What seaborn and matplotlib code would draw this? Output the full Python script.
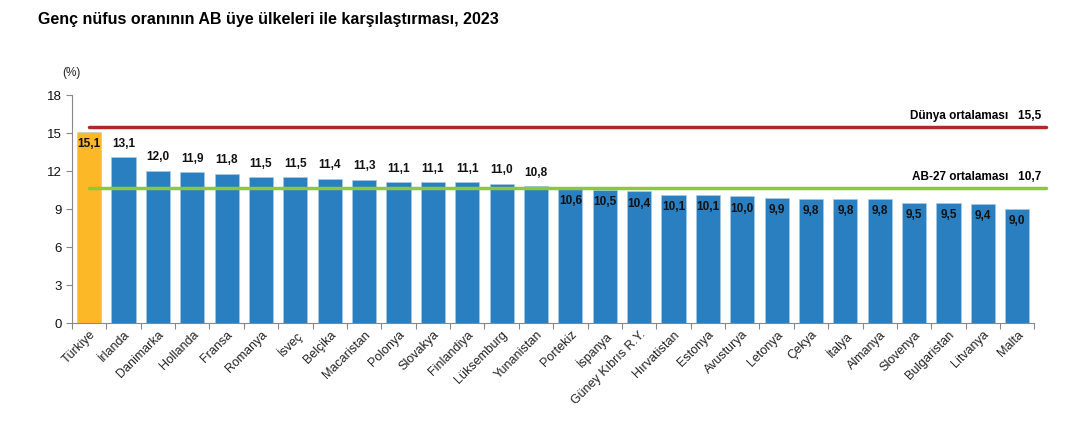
import numpy as np
import matplotlib.pyplot as plt
import seaborn as sns
import pandas as pd

# data
countries = ["Türkiye", "İrlanda", "Danimarka", "Hollanda", "Fransa", "Romanya", "İsveç",
             "Belçika", "Macaristan", "Polonya", "Slovakya", "Finlandiya", "Lüksemburg",
             "Yunanistan", "Portekiz", "İspanya", "Güney Kıbrıs R.Y.", "Hırvatistan",
             "Estonya", "Avusturya", "Letonya", "Çekya", "İtalya", "Almanya", "Slovenya",
             "Bulgaristan", "Litvanya", "Malta"]
values = [15.1, 13.1, 12.0, 11.9, 11.8, 11.5, 11.5, 11.4, 11.3, 11.1, 11.1, 11.1, 11.0,
          10.8, 10.6, 10.5, 10.4, 10.1, 10.1, 10.0, 9.9, 9.8, 9.8, 9.8, 9.5, 9.5, 9.4, 9.0]
world_avg = 15.5
eu_avg = 10.7

df = pd.DataFrame({"country": countries, "value": values})
df["group"] = np.where(df["country"] == "Türkiye", "tr", "eu")

sns.set_style("white")
plt.rcParams['font.family'] = ['Liberation Sans', 'DejaVu Sans']
plt.rcParams['text.color'] = 'black'

fig = plt.figure(figsize=(10.79, 4.36), dpi=100)
ax = fig.add_axes([0.0667, 0.259, 0.892, 0.523])

sns.barplot(data=df, x="country", y="value", hue="group",
            palette={"tr": "#FDB827", "eu": "#2A7FC1"}, width=0.7, saturation=1,
            dodge=False, legend=False, ax=ax, edgecolor="#a8cbe6", linewidth=0.4)

ax.set_xlim(-0.5, len(countries) - 0.5)
ax.set_ylim(0, 18)
ax.set_yticks([0, 3, 6, 9, 12, 15, 18])
ax.set_xlabel("")
ax.set_ylabel("")

# average lines, running a bit past the right edge of the axes
ax.plot([0, 27.85], [world_avg, world_avg], color="#B0282A", lw=2.5, clip_on=False)
ax.plot([0, 27.85], [eu_avg, eu_avg], color="#8DC63F", lw=2.5, clip_on=False)
ax.text(27.7, world_avg + 0.35, "Dünya ortalaması   15,5", ha="right", va="bottom",
        fontsize=8.5, fontweight="bold")
ax.text(27.7, eu_avg + 0.35, "AB-27 ortalaması   10,7", ha="right", va="bottom",
        fontsize=8.5, fontweight="bold")

# value labels: above the bar if over EU line, inside otherwise (Türkiye inside)
for i, v in enumerate(values):
    txt = f"{v:.1f}".replace(".", ",")
    if i == 0 or v <= eu_avg:
        ax.text(i, v - 0.5, txt, ha="center", va="top", fontsize=8.5, fontweight="bold",
                color="#111111")
    else:
        ax.text(i, v + 0.6, txt, ha="center", va="bottom", fontsize=8.5, fontweight="bold",
                color="#111111")

# x ticks between bars, labels rotated
ax.set_xticks(np.arange(-0.5, len(countries) + 0.5, 1), minor=False)
ax.set_xticklabels([])
ax.set_xticks(np.arange(len(countries)), minor=True)
ax.set_xticklabels(countries, minor=True, rotation=45, ha="right", rotation_mode="anchor",
                   fontsize=9, color="#222222")
ax.tick_params(axis="x", which="minor", length=0, pad=4)
ax.tick_params(axis="x", which="major", length=4, direction="out", color="#888888")
ax.tick_params(axis="y", length=4, direction="out", color="#888888", labelsize=9.5, pad=3,
               labelcolor="#111111")
ax.tick_params(axis="both", bottom=True, left=True)

for s in ["top", "right"]:
    ax.spines[s].set_visible(False)
for s in ["left", "bottom"]:
    ax.spines[s].set_color("#888888")
    ax.spines[s].set_linewidth(0.8)

fig.text(0.035, 0.955, "Genç nüfus oranının AB üye ülkeleri ile karşılaştırması, 2023",
         fontsize=11.5, fontweight="bold", va="center", ha="left", color="black")
fig.text(0.058, 0.832, "(%)", fontsize=8.5, va="center", ha="left", color="#222222")

plt.savefig("out.png", dpi=100)
